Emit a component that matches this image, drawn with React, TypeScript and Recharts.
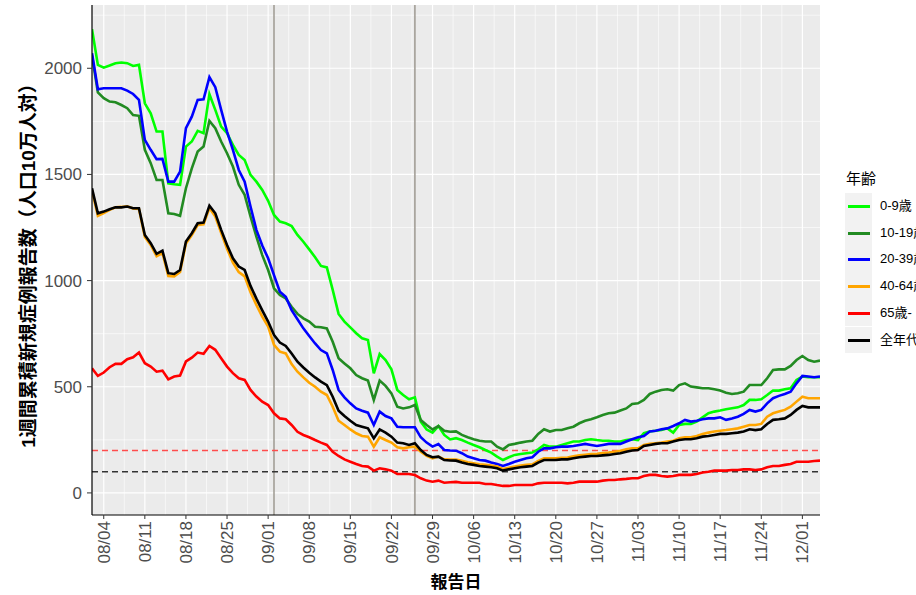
import React from "react";
import {
  LineChart,
  Line,
  XAxis,
  YAxis,
  CartesianGrid,
  ReferenceLine,
  Label,
} from "recharts";

const FONT = '"Liberation Sans", Arial, "Noto Sans CJK JP", sans-serif';

// day index 0 = 08/02, last point 12/04
const days = Array.from({ length: 125 }, (_, i) => i);

const tickDays = [2, 9, 16, 23, 30, 37, 44, 51, 58, 65, 72, 79, 86, 93, 100, 107, 114, 121];
const tickLabels = [
  "08/04", "08/11", "08/18", "08/25", "09/01", "09/08", "09/15", "09/22", "09/29",
  "10/06", "10/13", "10/20", "10/27", "11/03", "11/10", "11/17", "11/24", "12/01",
];
const yTicks = [0, 500, 1000, 1500, 2000];
const yMinor = [250, 750, 1250, 1750, 2250];
const xMinor = tickDays.slice(0, -1).map((d) => d + 3.5);

const markerDays = [31, 55]; // 09/02, 09/26
const thresholds = [200, 100];

const age0_9 = [
  2184, 2016, 2003, 2013, 2024, 2027, 2024, 2011, 2016, 1835,
  1788, 1702, 1702, 1458, 1454, 1451, 1631, 1655, 1705, 1694,
  1878, 1804, 1725, 1694, 1639, 1592, 1568, 1498, 1466, 1427,
  1376, 1309, 1278, 1270, 1257, 1215, 1183, 1147, 1110, 1069,
  1062, 956, 843, 807, 780, 752, 728, 720, 563, 654,
  626, 582, 485, 461, 441, 450, 336, 299, 284, 315,
  273, 252, 258, 249, 237, 226, 215, 202, 190, 171,
  155, 168, 179, 183, 187, 190, 205, 226, 218, 218,
  226, 234, 242, 242, 249, 253, 249, 246, 246, 242,
  242, 249, 253, 249, 281, 289, 293, 296, 304, 284,
  320, 325, 325, 336, 356, 375, 383, 388, 394, 399,
  403, 414, 438, 438, 441, 461, 482, 482, 488, 493,
  532, 548, 545, 545, 545,
];

const age10_19 = [
  2060, 1886, 1859, 1843, 1840, 1827, 1812, 1780, 1776, 1616,
  1553, 1474, 1474, 1317, 1314, 1305, 1435, 1529, 1608, 1631,
  1752, 1718, 1655, 1600, 1537, 1451, 1404, 1302, 1207, 1120,
  1050, 964, 932, 916, 877, 843, 822, 807, 783, 780,
  775, 712, 634, 610, 587, 555, 540, 529, 438, 529,
  504, 469, 406, 398, 403, 414, 343, 320, 299, 315,
  293, 288, 290, 273, 262, 253, 246, 242, 242, 218,
  205, 226, 231, 237, 242, 246, 278, 300, 289, 296,
  296, 304, 312, 328, 340, 347, 356, 367, 375, 378,
  388, 398, 419, 422, 438, 466, 477, 485, 488, 482,
  508, 516, 501, 497, 493, 493, 488, 482, 472, 466,
  469, 477, 508, 508, 508, 540, 579, 582, 582, 598,
  626, 645, 626, 618, 623,
];

const age20_39 = [
  2071, 1901, 1906, 1906, 1906, 1906, 1895, 1879, 1851, 1663,
  1616, 1572, 1573, 1466, 1466, 1513, 1718, 1772, 1851, 1854,
  1958, 1911, 1804, 1702, 1616, 1521, 1466, 1349, 1239, 1165,
  1105, 1026, 948, 924, 861, 818, 775, 739, 704, 673,
  657, 579, 485, 450, 422, 398, 387, 378, 320, 383,
  362, 351, 312, 309, 309, 309, 262, 237, 218, 230,
  202, 200, 199, 187, 171, 163, 155, 152, 143, 136,
  127, 136, 147, 155, 163, 168, 194, 210, 210, 215,
  218, 218, 221, 226, 231, 226, 221, 226, 231, 231,
  231, 242, 253, 262, 268, 289, 293, 300, 304, 315,
  328, 344, 336, 340, 347, 351, 351, 356, 344, 351,
  359, 372, 391, 383, 391, 422, 446, 457, 466, 477,
  516, 551, 548, 545, 548,
];

const age40_64 = [
  1425, 1305, 1318, 1333, 1345, 1347, 1350, 1340, 1337, 1205,
  1168, 1115, 1130, 1022, 1020, 1040, 1175, 1215, 1262, 1265,
  1342, 1302, 1225, 1150, 1085, 1040, 1020, 945, 885, 830,
  783, 697, 665, 657, 607, 571, 544, 519, 500, 477,
  461, 406, 340, 320, 299, 281, 268, 265, 218, 262,
  249, 237, 215, 210, 215, 218, 194, 174, 163, 171,
  158, 157, 157, 151, 144, 140, 135, 132, 129, 124,
  113, 119, 124, 129, 132, 135, 151, 163, 163, 163,
  166, 167, 172, 177, 180, 183, 184, 188, 190, 194,
  198, 205, 210, 210, 226, 231, 234, 237, 242, 246,
  257, 262, 262, 268, 278, 284, 289, 293, 296, 300,
  304, 312, 320, 320, 325, 359, 375, 383, 391, 406,
  430, 453, 446, 446, 446,
];

const age65 = [
  587, 551, 567, 592, 608, 608, 630, 639, 661, 611,
  595, 571, 576, 535, 548, 553, 619, 637, 661, 655,
  692, 674, 634, 595, 564, 540, 532, 485, 454, 430,
  414, 375, 351, 347, 320, 288, 273, 262, 249, 237,
  226, 194, 174, 158, 147, 136, 127, 124, 105, 116,
  111, 105, 89, 89, 89, 84, 69, 58, 53, 58,
  48, 50, 52, 48, 48, 48, 48, 42, 42, 37,
  33, 33, 37, 37, 37, 37, 45, 48, 48, 48,
  48, 45, 48, 53, 53, 53, 53, 58, 61, 61,
  64, 66, 69, 69, 80, 85, 85, 80, 77, 80,
  85, 85, 85, 89, 96, 100, 105, 105, 105, 108,
  108, 111, 111, 108, 111, 121, 127, 127, 132, 136,
  147, 147, 147, 150, 152,
];

const allAges = [
  1435, 1317, 1325, 1336, 1345, 1345, 1349, 1341, 1341, 1215,
  1176, 1126, 1141, 1035, 1031, 1050, 1184, 1223, 1270, 1273,
  1353, 1317, 1239, 1168, 1105, 1066, 1050, 975, 915, 860,
  807, 744, 708, 692, 657, 618, 591, 566, 544, 524,
  508, 453, 387, 362, 340, 320, 312, 304, 257, 299,
  284, 265, 237, 234, 226, 234, 202, 179, 168, 171,
  155, 153, 152, 143, 136, 132, 127, 124, 121, 116,
  105, 111, 116, 121, 124, 127, 143, 155, 155, 155,
  158, 158, 163, 168, 171, 174, 174, 177, 179, 183,
  187, 194, 200, 202, 221, 226, 231, 234, 234, 242,
  249, 253, 253, 257, 265, 268, 273, 278, 278, 281,
  284, 289, 300, 296, 300, 325, 344, 347, 351, 367,
  391, 410, 403, 403, 403,
];

const series = [
  { key: "a0", name: "0-9歳", color: "#00FF00", values: age0_9 },
  { key: "a10", name: "10-19歳", color: "#228B22", values: age10_19 },
  { key: "a20", name: "20-39歳", color: "#0000FF", values: age20_39 },
  { key: "a40", name: "40-64歳", color: "#FFA500", values: age40_64 },
  { key: "a65", name: "65歳-", color: "#FF0000", values: age65 },
  { key: "all", name: "全年代", color: "#000000", values: allAges },
];

const rows = days.map((d, i) => {
  const row: Record<string, number> = { day: d };
  series.forEach((s) => (row[s.key] = s.values[i]));
  return row;
});

const XTick = ({ x, y, payload }: any) => {
  const label = tickLabels[tickDays.indexOf(payload.value)] ?? "";
  return (
    <text
      x={x}
      y={y}
      transform={`rotate(-90, ${x}, ${y})`}
      textAnchor="end"
      dy="0.36em"
      fill="#4D4D4D"
      fontSize={17}
      fontFamily={FONT}
    >
      {label}
    </text>
  );
};

const YTitle = () => (
  <text
    x={28}
    y={261}
    transform="rotate(-90, 28, 261)"
    textAnchor="middle"
    dominantBaseline="central"
    fontSize={19}
    fontWeight="bold"
    fontFamily={FONT}
    fill="#000"
  >
    1週間累積新規症例報告数（人口10万人対）
  </text>
);

const XTitle = () => (
  <text
    x={456}
    y={582}
    textAnchor="middle"
    dominantBaseline="central"
    fontSize={17}
    fontWeight="bold"
    fontFamily={FONT}
    fill="#000"
  >
    報告日
  </text>
);

function AgeLegend() {
  return (
    <div style={{ position: "absolute", left: 0, top: 0, fontFamily: FONT }}>
      <div style={{ position: "absolute", left: 846, top: 167, fontSize: 15, whiteSpace: "nowrap" }}>
        年齢
      </div>
      {series.map((s, i) => (
        <div key={s.key}>
          <div
            style={{
              position: "absolute",
              left: 845,
              top: 193 + i * 26.7,
              width: 27,
              height: 26.7,
              background: "#F2F2F2",
            }}
          />
          <div
            style={{
              position: "absolute",
              left: 848,
              top: 193 + i * 26.7 + 12,
              width: 22,
              height: 3,
              background: s.color,
            }}
          />
          <div
            style={{
              position: "absolute",
              left: 880,
              top: 193 + i * 26.7 + 5,
              fontSize: 13,
              lineHeight: "16px",
              whiteSpace: "nowrap",
            }}
          >
            {s.name}
          </div>
        </div>
      ))}
    </div>
  );
}

export default function App() {
  return (
    <div
      style={{
        position: "fixed",
        left: 0,
        top: 0,
        width: 916,
        height: 595,
        overflow: "hidden",
        background: "#fff",
      }}
    >
      <LineChart
        width={916}
        height={595}
        data={rows}
        margin={{ top: 5, right: 96, bottom: 0, left: 0 }}
      >
        <CartesianGrid
          fill="#EBEBEB"
          stroke="#FFFFFF"
          strokeWidth={0.6}
          horizontalValues={yMinor}
          verticalValues={xMinor}
        />
        <CartesianGrid
          stroke="#FFFFFF"
          strokeWidth={1.2}
          horizontalValues={yTicks}
          verticalValues={tickDays}
        />
        <XAxis
          dataKey="day"
          type="number"
          domain={[0, 124]}
          ticks={tickDays}
          interval={0}
          height={80}
          tick={<XTick />}
          tickSize={4}
          tickMargin={2}
          tickLine={{ stroke: "#333333" }}
          axisLine={{ stroke: "#000000", strokeWidth: 1.2 }}
          allowDataOverflow
        >
          <Label content={<XTitle />} />
        </XAxis>
        <YAxis
          type="number"
          domain={[-104, 2298]}
          ticks={yTicks}
          interval={0}
          width={92}
          tickSize={5}
          tickMargin={5}
          tick={{ fill: "#4D4D4D", fontSize: 17, fontFamily: FONT }}
          tickLine={{ stroke: "#333333" }}
          axisLine={{ stroke: "#000000", strokeWidth: 1.2 }}
          allowDataOverflow
        >
          <Label content={<YTitle />} />
        </YAxis>
        {markerDays.map((d) => (
          <ReferenceLine key={`v${d}`} x={d} stroke="#A39F97" strokeWidth={1.6} />
        ))}
        <ReferenceLine y={thresholds[0]} stroke="#FF4D4D" strokeWidth={1.4} strokeDasharray="6 4" />
        <ReferenceLine y={thresholds[1]} stroke="#333333" strokeWidth={1.4} strokeDasharray="6 4" />
        {series.map((s) => (
          <Line
            key={s.key}
            type="linear"
            dataKey={s.key}
            name={s.name}
            stroke={s.color}
            strokeWidth={2.6}
            dot={false}
            activeDot={false}
            isAnimationActive={false}
          />
        ))}
      </LineChart>
      <AgeLegend />
    </div>
  );
}
